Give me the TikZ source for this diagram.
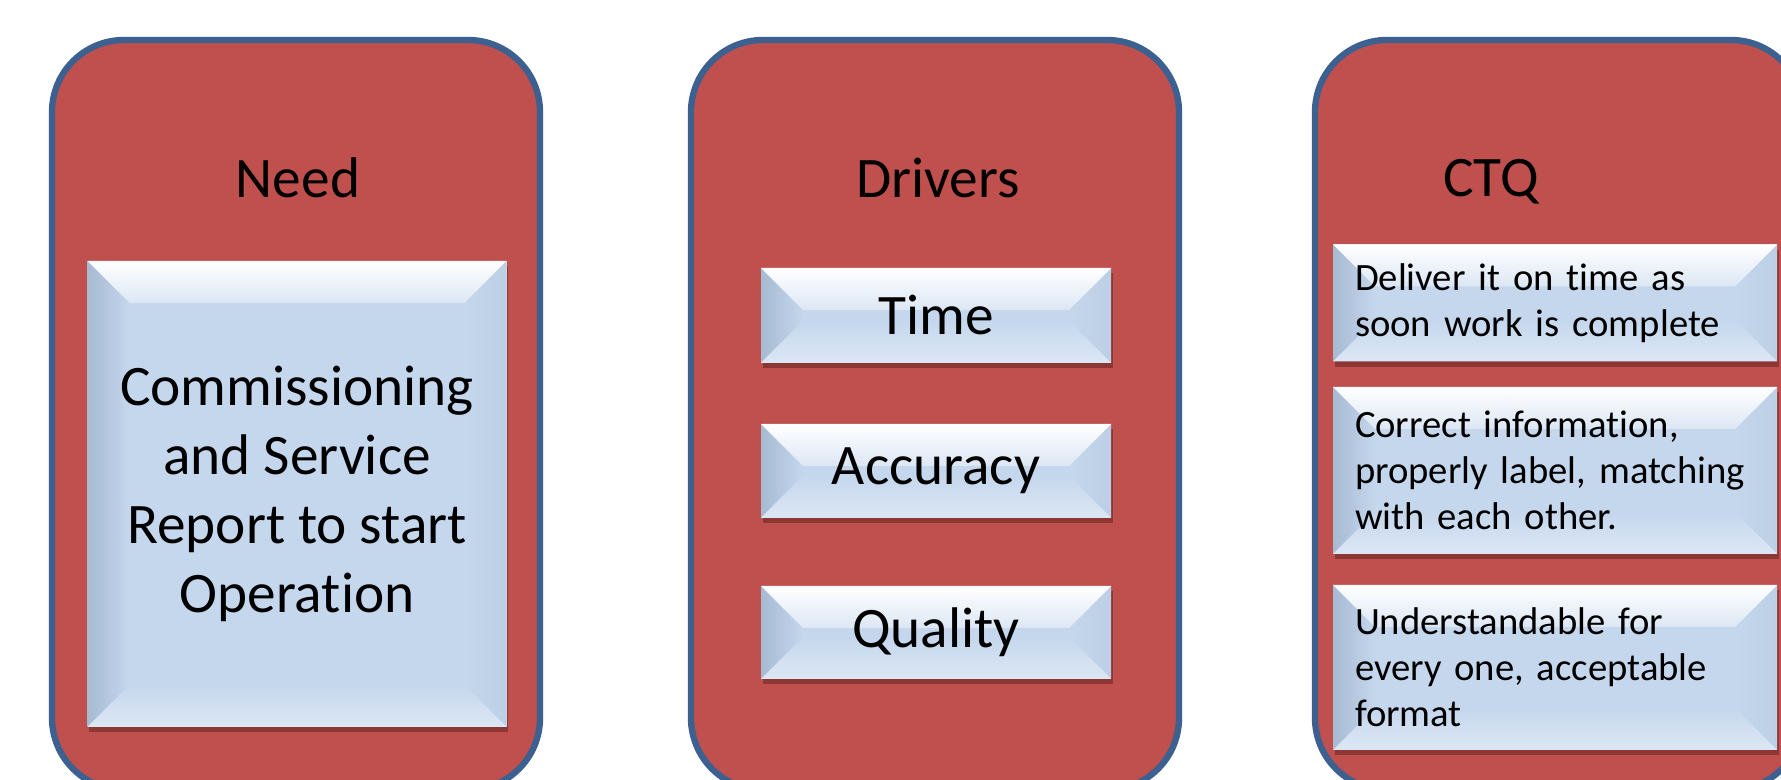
\documentclass[tikz,border=0pt]{standalone}
\usepackage{fontspec}
\setmainfont{Carlito}[Ligatures={NoCommon,NoContextual},RawFeature={-liga;-clig;-calt;-dlig}]
\usepackage{tikz}
\usetikzlibrary{shadows,calc}

\definecolor{panelred}{HTML}{C0504D}
\definecolor{panelblue}{HTML}{3C6090}
\definecolor{faceblue}{HTML}{C5D7ED}
\definecolor{bevleft}{HTML}{A6BAD2}
\definecolor{bevright}{HTML}{BDCFE5}
\definecolor{bevlow}{HTML}{DCE7F5}
\definecolor{shadowred}{HTML}{5A1F1D}

\tikzset{
  panel/.style={draw=panelblue, line width=1.8pt, fill=panelred, rounded corners=0.72cm,
    minimum width=4.88cm, minimum height=7.5cm},
  title/.style={font=\fontsize{16.3}{19.6}\selectfont},
  bevelbox/.style={fill=faceblue, inner sep=0pt, align=center,
    font=\fontsize{16.3}{19.6}\selectfont,
    drop shadow={shadow xshift=0.15mm, shadow yshift=-0.55mm, fill=shadowred, opacity=0.5},
    path picture={
      \coordinate (nw) at (path picture bounding box.north west);
      \coordinate (ne) at (path picture bounding box.north east);
      \coordinate (sw) at (path picture bounding box.south west);
      \coordinate (se) at (path picture bounding box.south east);
      \shade[left color=bevleft, right color=faceblue]
        (nw) -- (sw) -- ($(sw)+(0.42,0.42)$) -- ($(nw)+(0.42,-0.42)$) -- cycle;
      \shade[left color=faceblue, right color=bevright]
        (ne) -- (se) -- ($(se)+(-0.42,0.42)$) -- ($(ne)+(-0.42,-0.42)$) -- cycle;
      \shade[top color=white, bottom color=faceblue!60!white]
        (nw) -- (ne) -- ($(ne)+(-0.42,-0.42)$) -- ($(nw)+(0.42,-0.42)$) -- cycle;
      \shade[top color=faceblue, bottom color=bevlow]
        (sw) -- (se) -- ($(se)+(-0.42,0.42)$) -- ($(sw)+(0.42,0.42)$) -- cycle;
    }},
  ctqbox/.style={bevelbox, align=left, text width=4.0cm, inner xsep=0.22cm,
    minimum height=#1, font=\fontsize{11}{13.1}\selectfont}
}

\begin{document}
\begin{tikzpicture}
\clip (0,0) rectangle (17.81,7.80);
\fill[white] (0,0) rectangle (17.81,7.80);

% the three columns
\node (needpanel) at (2.96,3.65) [panel] {};
\node (drvpanel) at (9.35,3.65) [panel] {};
\node (ctqpanel) at (15.59,3.65) [panel] {};

\node (need) at (2.98,6.02) [title] {Need};
\node (drivers) at (9.38,6.02) [title] {Drivers};
\node (ctq) at (14.91,5.98) [title] {CTQ};

% need
\node (report) at (2.97,2.86) [bevelbox, minimum width=4.19cm, minimum height=4.66cm]
  {Commissioning\\and Service\\Report to start\\Operation};

% drivers
\node (time) at (9.36,4.645) [bevelbox, minimum width=3.5cm, minimum height=0.95cm] {Time};
\node (accuracy) at (9.36,3.09) [bevelbox, minimum width=3.5cm, minimum height=0.94cm] {Accuracy};
\node (quality) at (9.36,1.475) [bevelbox, minimum width=3.5cm, minimum height=0.93cm] {Quality};

% ctq
\node (ontime) at (15.55,4.77) [ctqbox=1.17cm] {Deliver it on time as\\soon work is complete};
\node (correct) at (15.55,3.095) [ctqbox=1.67cm] {Correct information,\\properly label, matching\\with each other.};
\node (clear) at (15.55,1.125) [ctqbox=1.65cm] {Understandable for\\every one, acceptable\\format};
\end{tikzpicture}
\end{document}
